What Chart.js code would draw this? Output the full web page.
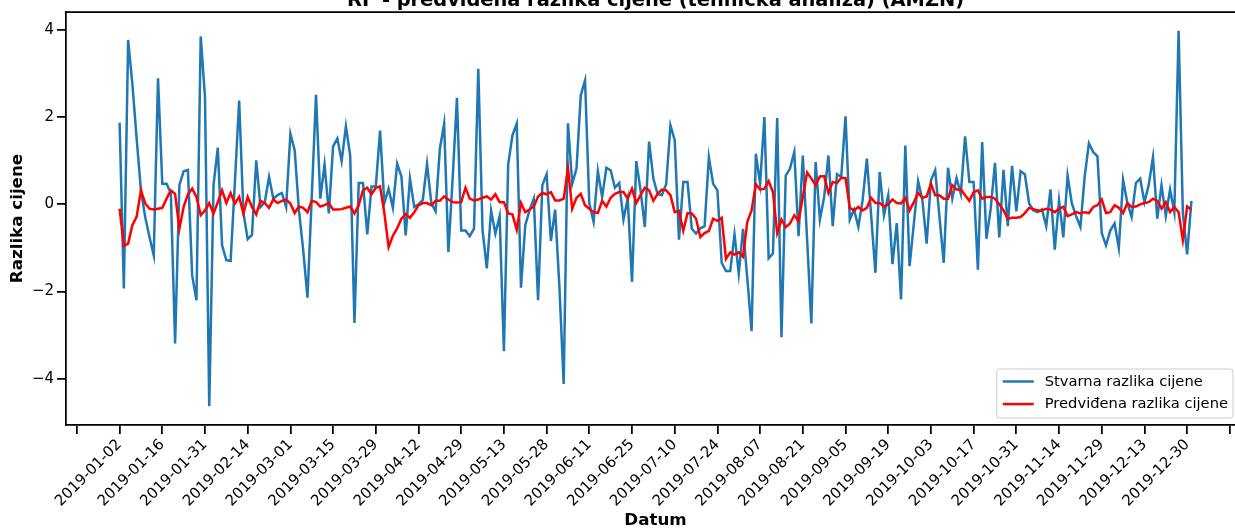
<!DOCTYPE html>
<html><head><meta charset="utf-8">
<script src="https://cdn.jsdelivr.net/npm/chart.js@4/dist/chart.umd.min.js"></script>
<style>
html,body{margin:0;padding:0;overflow:hidden;background:#fff;width:1235px;height:528px}
#wrap{position:absolute;left:0;top:0;width:1260px;height:540px}
</style></head>
<body><div id="wrap"><canvas id="c" width="1260" height="540"></canvas></div>
<script>
const chartTitle = 'RF - predviđena razlika cijene (tehnička analiza) (AMZN)';
const xTitle = 'Datum';
const yTitle = 'Razlika cijene';
const seriesNames = ['Stvarna razlika cijene', 'Predviđena razlika cijene'];
const tickLabels = ['', '2019-01-02','2019-01-16','2019-01-31','2019-02-14','2019-03-01','2019-03-15','2019-03-29',
  '2019-04-12','2019-04-29','2019-05-13','2019-05-28','2019-06-11','2019-06-25','2019-07-10','2019-07-24',
  '2019-08-07','2019-08-21','2019-09-05','2019-09-19','2019-10-03','2019-10-17','2019-10-31','2019-11-14',
  '2019-11-29','2019-12-13','2019-12-30', ''];
const yTicks = [-4, -2, 0, 2, 4];

const actual = [
 1.87,-1.93,3.77,2.75,1.5,0.32,-0.29,-0.75,-1.17,2.89,
 0.47,0.47,0.26,-3.19,0.44,0.76,0.79,-1.63,-2.2,3.85,
 2.46,-4.63,0.44,1.30,-0.94,-1.28,-1.30,0.5,2.38,-0.2,
 -0.8,-0.7,1.01,-0.06,0.05,0.63,0.13,0.21,0.26,-0.06,
 1.62,1.24,-0.14,-1.05,-2.14,0.17,2.51,0.13,0.91,-0.21,
 1.33,1.51,0.99,1.79,1.12,-2.72,0.49,0.49,-0.69,0.41,
 0.41,1.69,0.03,0.36,-0.08,0.93,0.64,-0.71,0.59,-0.06,
 0.0,0.1,0.93,0.03,-0.16,1.27,1.85,-1.09,0.6,2.44,
 -0.60,-0.60,-0.73,-0.56,3.11,-0.60,-1.47,-0.14,-0.67,-0.27,
 -3.37,0.91,1.58,1.85,-1.91,-0.48,-0.14,0.13,-2.2,0.44,
 0.69,-0.84,-0.12,-1.9,-4.12,1.86,0.47,0.82,2.50,2.84,
 0.02,-0.40,0.76,0.17,0.84,0.78,0.38,0.49,-0.35,0.13,
 -1.78,0.99,0.32,-0.52,1.44,0.59,0.23,0.21,0.46,1.81,
 1.47,-0.81,0.51,0.51,-0.56,-0.67,-0.55,-0.5,1.08,0.47,
 0.32,-1.34,-1.53,-1.53,-0.69,-1.59,-0.56,-1.7,-2.91,1.16,
 0.47,2.0,-1.24,-1.13,1.98,-3.05,0.66,0.82,1.2,-0.73,
 1.12,-0.8,-2.73,0.97,-0.35,0.17,1.12,-0.5,0.69,0.63,
 2.02,-0.35,-0.12,-0.52,0.09,1.05,-0.25,-1.57,0.74,-0.25,
 0.21,-1.37,-0.43,-2.18,1.35,-1.42,-0.44,0.53,0.1,-0.9,
 0.55,0.78,-0.29,-1.34,0.84,0.13,0.6,0.24,1.56,0.51,
 0.51,-1.5,1.43,-0.79,-0.1,0.95,-0.76,0.79,-0.5,0.88,
 -0.16,0.76,0.69,0.02,-0.14,-0.18,-0.12,-0.5,0.34,-1.04,
 0.09,-0.76,0.66,0.02,-0.27,-0.52,0.63,1.40,1.2,1.1,
 -0.66,-0.94,-0.6,-0.44,-1.0,0.56,0.03,-0.29,0.49,0.59,
 0.05,0.44,1.08,-0.33,0.44,-0.27,0.34,-0.18,3.98,-0.2,
 -1.15,0.08
];
const predicted = [
 -0.1,-0.95,-0.9,-0.48,-0.28,0.32,0.02,-0.1,-0.12,-0.1,
 -0.08,0.13,0.32,0.24,-0.56,-0.06,0.23,0.36,0.17,-0.25,
 -0.14,0.03,-0.21,0.05,0.32,0.03,0.26,0.02,0.17,-0.21,
 0.17,-0.06,-0.23,0.08,0.03,-0.08,0.11,0.03,0.08,0.11,
 0.02,-0.2,-0.05,-0.08,-0.18,0.08,0.05,-0.05,-0.02,0.03,
 -0.12,-0.12,-0.11,-0.08,-0.05,-0.21,-0.02,0.32,0.38,0.23,
 0.38,0.41,-0.2,-0.98,-0.72,-0.55,-0.33,-0.22,-0.31,-0.18,
 -0.02,0.03,0.03,-0.02,0.08,0.08,0.18,0.11,0.05,0.04,
 0.05,0.38,0.13,0.09,0.11,0.15,0.18,0.11,0.23,0.05,
 0.05,-0.21,-0.23,-0.58,0.03,-0.18,-0.12,-0.05,0.18,0.26,
 0.23,0.28,0.09,0.09,0.13,0.82,-0.1,0.15,0.24,-0.02,
 -0.1,-0.18,-0.2,0.08,-0.05,0.15,0.24,0.28,0.28,0.13,
 0.36,0.03,0.21,0.38,0.32,0.08,0.24,0.34,0.32,0.21,
 -0.18,-0.15,-0.61,-0.2,-0.21,-0.33,-0.75,-0.66,-0.61,-0.33,
 -0.38,-0.31,-1.25,-1.1,-1.15,-1.1,-1.2,-0.4,-0.14,0.46,
 0.34,0.36,0.53,0.28,-0.66,-0.35,-0.52,-0.44,-0.25,-0.38,
 0.17,0.73,0.59,0.44,0.64,0.65,0.26,0.51,0.49,0.61,
 0.6,-0.08,-0.14,-0.06,-0.14,-0.08,0.15,0.03,0.03,-0.05,
 0.0,0.11,0.03,0.02,0.15,-0.14,0.05,0.26,0.15,0.18,
 0.47,0.21,0.21,0.13,0.13,0.44,0.34,0.34,0.21,0.08,
 0.28,0.32,0.13,0.17,0.17,0.13,0.0,-0.14,-0.33,-0.31,
 -0.31,-0.29,-0.2,-0.08,-0.11,-0.14,-0.14,-0.1,-0.12,-0.18,
 -0.1,-0.06,-0.27,-0.23,-0.18,-0.21,-0.18,-0.2,-0.06,-0.02,
 0.11,-0.2,-0.18,-0.02,-0.08,-0.2,0.03,-0.06,-0.05,0.0,
 0.03,0.05,0.13,0.08,-0.1,0.05,-0.18,-0.06,-0.18,-0.82,
 -0.05,-0.12
];

const FONT = 'DejaVu Sans';
Chart.defaults.font.family = FONT;
Chart.defaults.color = '#000';

const toPts = arr => arr.map((v, i) => ({x: i, y: v}));
const n = actual.length;
const xMargin = (n - 1) * 0.05;
const yMin = Math.min(...actual, ...predicted), yMax = Math.max(...actual, ...predicted);
const yMargin = (yMax - yMin) * 0.05;

const framePlugin = {
  id: 'frame',
  afterDraw(chart) {
    const {ctx, chartArea: a} = chart;
    ctx.save();
    ctx.strokeStyle = '#000';
    ctx.lineWidth = 1.75;
    ctx.beginPath();
    ctx.moveTo(a.left, a.top); ctx.lineTo(a.right, a.top); ctx.lineTo(a.right, a.bottom);
    ctx.stroke();
    // title (clipped by the top of the picture)
    ctx.fillStyle = '#000';
    ctx.font = 'bold 19.4px "' + FONT + '"';
    ctx.textAlign = 'center';
    ctx.textBaseline = 'alphabetic';
    ctx.fillText(chartTitle, (a.left + a.right) / 2, 5.5);
    // legend (lower right)
    const ds = chart.data.datasets;
    ctx.font = '14.7px "' + FONT + '"';
    let tw = 0;
    ds.forEach(d => { tw = Math.max(tw, ctx.measureText(d.label).width); });
    const padL = 6, lineLen = 31, gap = 11, padR = 5, rowH = 22.6, boxH = 49;
    const boxW = padL + lineLen + gap + tw + padR;
    const right = a.right - 12, bottom = a.bottom - 7;
    const left = right - boxW, top = bottom - boxH;
    ctx.beginPath();
    if (ctx.roundRect) ctx.roundRect(left, top, boxW, boxH, 3); else ctx.rect(left, top, boxW, boxH);
    ctx.fillStyle = 'rgba(255,255,255,0.8)';
    ctx.fill();
    ctx.strokeStyle = '#cccccc';
    ctx.lineWidth = 1;
    ctx.stroke();
    ds.forEach((d, k) => {
      const y = top + 12.5 + k * rowH;
      ctx.beginPath();
      ctx.strokeStyle = d.borderColor;
      ctx.lineWidth = d.borderWidth;
      ctx.moveTo(left + padL, y); ctx.lineTo(left + padL + lineLen, y);
      ctx.stroke();
      ctx.fillStyle = '#000';
      ctx.textAlign = 'left';
      ctx.textBaseline = 'middle';
      ctx.fillText(d.label, left + padL + lineLen + gap, y + 0.5);
    });
    ctx.restore();
  }
};

new Chart(document.getElementById('c'), {
  type: 'line',
  data: {
    datasets: [
      {label: seriesNames[0], data: toPts(actual), borderColor: '#1f77b4', borderWidth: 2.5,
       pointRadius: 0, tension: 0, fill: false, order: 1},
      {label: seriesNames[1], data: toPts(predicted), borderColor: '#ff0000', borderWidth: 2.5,
       pointRadius: 0, tension: 0, fill: false, order: 0}
    ]
  },
  options: {
    responsive: false,
    animation: false,
    events: [],
    layout: {padding: {left: 0, top: 11.5, right: 15, bottom: 0}},
    plugins: {legend: {display: false}, tooltip: {enabled: false}, title: {display: false}},
    scales: {
      x: {
        type: 'linear',
        min: -xMargin, max: n - 1 + xMargin,
        afterBuildTicks: s => { s.ticks = tickLabels.map((_, k) => ({value: -10 + 10 * k})); },
        afterFit: s => { s.height = 115; },
        ticks: {
          autoSkip: false, maxRotation: 45, minRotation: 45, padding: 2,
          font: {size: 15}, color: '#000',
          callback: v => tickLabels[Math.round((v + 10) / 10)] ?? ''
        },
        grid: {drawOnChartArea: false, drawTicks: true, tickLength: 9, tickWidth: 1.75, tickColor: '#000', lineWidth: 1.75, color: '#000'},
        border: {display: true, color: '#000', width: 1.75},
        title: {display: true, text: xTitle, font: {size: 16.7, weight: 'bold'}, color: '#000', padding: {top: 0, bottom: 9}}
      },
      y: {
        type: 'linear',
        min: yMin - yMargin, max: yMax + yMargin,
        afterBuildTicks: s => { s.ticks = yTicks.map(v => ({value: v})); },
        afterFit: s => { s.width = 66; },
        ticks: {
          padding: 3, font: {size: 15}, color: '#000',
          callback: v => v < 0 ? '\u2212' + Math.abs(v) : String(v)
        },
        grid: {drawOnChartArea: false, drawTicks: true, tickLength: 9, tickWidth: 1.75, tickColor: '#000', lineWidth: 1.75, color: '#000'},
        border: {display: true, color: '#000', width: 1.75},
        title: {display: true, text: yTitle, font: {size: 16.7, weight: 'bold'}, color: '#000', padding: {top: 7.5, bottom: 0}}
      }
    }
  },
  plugins: [framePlugin]
});
</script>
</body></html>
